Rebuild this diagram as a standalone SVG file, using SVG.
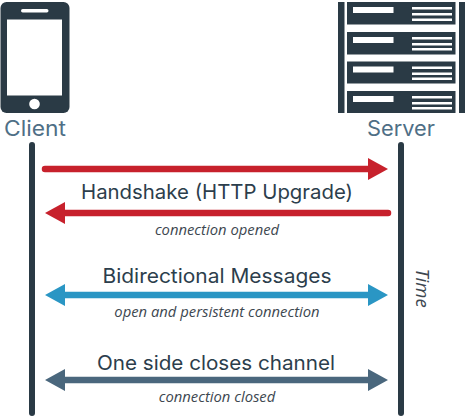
<svg xmlns="http://www.w3.org/2000/svg" width="465" height="419" viewBox="0 0 465 419">
<style>
.dark{fill:#2a3a45}
.w{fill:#fff}
.t{font-family:"Inter","Liberation Sans",sans-serif;fill:#2c3e4c;font-size:20px;font-weight:400;text-anchor:middle}
.n{font-family:"Inter","Liberation Sans",sans-serif;fill:#4f6f86;font-size:21px;font-weight:400;text-anchor:middle}
.s{font-family:"Open Sans","Liberation Sans",sans-serif;font-style:italic;fill:#3d4750;font-size:14.800px;text-anchor:middle}
.life{stroke:#2a3a45;stroke-width:6;stroke-linecap:round;fill:none}
.shaft{stroke-width:6.5;stroke-linecap:round;fill:none}
</style>
<g id="client">
<rect class="dark" x="0.5" y="2" width="69" height="111" rx="6"/>
<rect class="w" x="7" y="19.500" width="55" height="76"/>
<rect class="w" x="21" y="9" width="27.500" height="3.500" rx="1.700"/>
<circle class="w" cx="34.500" cy="104" r="5.300"/>
<text class="n" x="35" y="136" textLength="62" lengthAdjust="spacingAndGlyphs">Client</text>
</g>
<g id="server">
<rect class="dark" x="338" y="2" width="6.500" height="111"/>
<rect class="dark" x="459" y="2" width="6" height="111"/>
<g id="u1"><rect class="dark" x="347" y="2" width="108.500" height="22.500"/><rect class="w" x="353" y="7" width="40.500" height="6"/><rect class="w" x="412" y="7" width="40" height="2.500"/><rect class="w" x="412" y="13" width="40" height="2.500"/><rect class="w" x="412" y="18.500" width="40" height="2.500"/></g>
<g id="u2"><rect class="dark" x="347" y="32" width="108.500" height="22.500"/><rect class="w" x="353" y="37" width="40.500" height="6"/><rect class="w" x="412" y="37" width="40" height="2.500"/><rect class="w" x="412" y="43" width="40" height="2.500"/><rect class="w" x="412" y="48" width="40" height="2.500"/></g>
<g id="u3"><rect class="dark" x="347" y="61.500" width="108.500" height="22"/><rect class="w" x="353" y="66.500" width="40.500" height="6"/><rect class="w" x="412" y="66.500" width="40" height="2.500"/><rect class="w" x="412" y="72.500" width="40" height="2.500"/><rect class="w" x="412" y="77.500" width="40" height="2.500"/></g>
<g id="u4"><rect class="dark" x="347" y="91" width="108.500" height="22"/><rect class="w" x="353" y="96" width="40.500" height="6"/><rect class="w" x="412" y="96" width="40" height="2.500"/><rect class="w" x="412" y="102" width="40" height="2.500"/><rect class="w" x="412" y="107" width="40" height="2.500"/></g>
<text class="n" x="401" y="136" textLength="68" lengthAdjust="spacingAndGlyphs">Server</text>
</g>
<g id="connectors">
<path class="life" d="M32 145V413"/>
<path class="life" d="M401 145V413"/>
<path class="shaft" stroke="#c7212c" d="M45 169H370"/>
<path fill="#c7212c" d="M368 158L388 169L368 180Z"/>
<path class="shaft" stroke="#c7212c" d="M63 213H388"/>
<path fill="#c7212c" d="M65 202L45 213L65 224Z"/>
<path class="shaft" stroke="#2a96c4" stroke-linecap="butt" d="M63 295H370"/>
<path fill="#2a96c4" d="M65 284L45 295L65 306ZM368 284L388 295L368 306Z"/>
<path class="shaft" stroke="#4a677d" stroke-linecap="butt" d="M63 380H370"/>
<path fill="#4a677d" d="M65 369L45 380L65 391ZM368 369L388 380L368 391Z"/>
</g>
<g id="labels">
<text class="t" x="217" y="199" textLength="272" lengthAdjust="spacingAndGlyphs">Handshake (HTTP Upgrade)</text>
<text class="s" x="217" y="235">connection opened</text>
<text class="t" x="217" y="283" textLength="229" lengthAdjust="spacingAndGlyphs">Bidirectional Messages</text>
<text class="s" x="217" y="317">open and persistent connection</text>
<text class="t" x="216" y="370" textLength="238" lengthAdjust="spacingAndGlyphs">One side closes channel</text>
<text class="s" x="217" y="402">connection closed</text>
<text class="s" transform="translate(416 288) rotate(90)" style="font-size:18.500px" x="0" y="0">Time</text>
</g>
</svg>
